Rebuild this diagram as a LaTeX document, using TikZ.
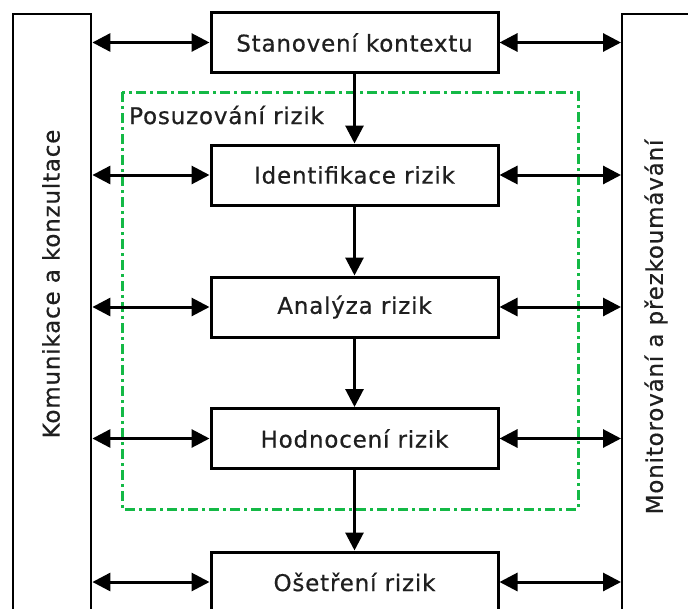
\documentclass[tikz,border=0pt]{standalone}
\usepackage{fontspec}
\setmainfont{DejaVu Sans}
\newfontfamily\popisfont[LetterSpace=3.5,FakeBold=0.6]{DejaVu Sans}
\usetikzlibrary{arrows.meta}
\definecolor{posuzgreen}{RGB}{20,185,70}

\begin{document}
\begin{tikzpicture}[x=1pt, y=-1pt,
    krok/.style={draw, line width=3pt, minimum width=287pt, minimum height=60pt, inner sep=0pt, text=black!88, font=\popisfont\fontsize{23}{27}\selectfont},
    strana/.style={draw, line width=2.4pt, minimum width=78pt, minimum height=640pt, inner sep=0pt, anchor=north west},
    popis/.style={text=black!88, font=\popisfont\fontsize{23}{27}\selectfont, rotate=90},
    tok/.style={line width=3pt, -{Triangle[length=18pt,width=18pt]}},
    vazba/.style={line width=3pt, {Triangle[length=18pt,width=18pt]}-{Triangle[length=18pt,width=18pt]}},
  ]
    \useasboundingbox (0,0) rectangle (688,608);
    \clip (0,0) rectangle (688,608);

    \node[strana] (komunikace) at (12,13) {};
    \node[strana] (monitorovani) at (621,13) {};
    \node[popis] (komunikacetext) at (51,284) {Komunikace a konzultace};
    \node[popis] (monitorovanitext) at (656,327) {Monitorování a přezkoumávání};

    \draw[posuzgreen, line width=3pt, dash pattern=on 10pt off 4pt on 3pt off 4pt] (122,92) rectangle (578,509);
    \node[anchor=west, text=black!88, font=\popisfont\fontsize{23}{27}\selectfont, inner sep=0pt] (posuzovani) at (129,115) {Posuzování rizik};

    \node[krok] (stanoveni) at (354.5,42.5) {Stanovení kontextu};
    \node[krok] (identifikace) at (354.5,175) {Identifikace rizik};
    \node[krok] (analyza) at (354.5,307) {Analýza rizik};
    \node[krok] (hodnoceni) at (354.5,438.5) {Hodnocení rizik};
    \node[krok] (osetreni) at (354.5,582) {Ošetření rizik};

    \draw[tok] (stanoveni) -- (identifikace);
    \draw[tok] (identifikace) -- (analyza);
    \draw[tok] (analyza) -- (hodnoceni);
    \draw[tok] (hodnoceni) -- (osetreni);

    \foreach \krok in {stanoveni, identifikace, analyza, hodnoceni, osetreni}{
      \draw[vazba] (komunikace.east |- \krok.west) -- (\krok.west);
      \draw[vazba] (\krok.east) -- (monitorovani.west |- \krok.east);
    }
  \end{tikzpicture}
\end{document}
